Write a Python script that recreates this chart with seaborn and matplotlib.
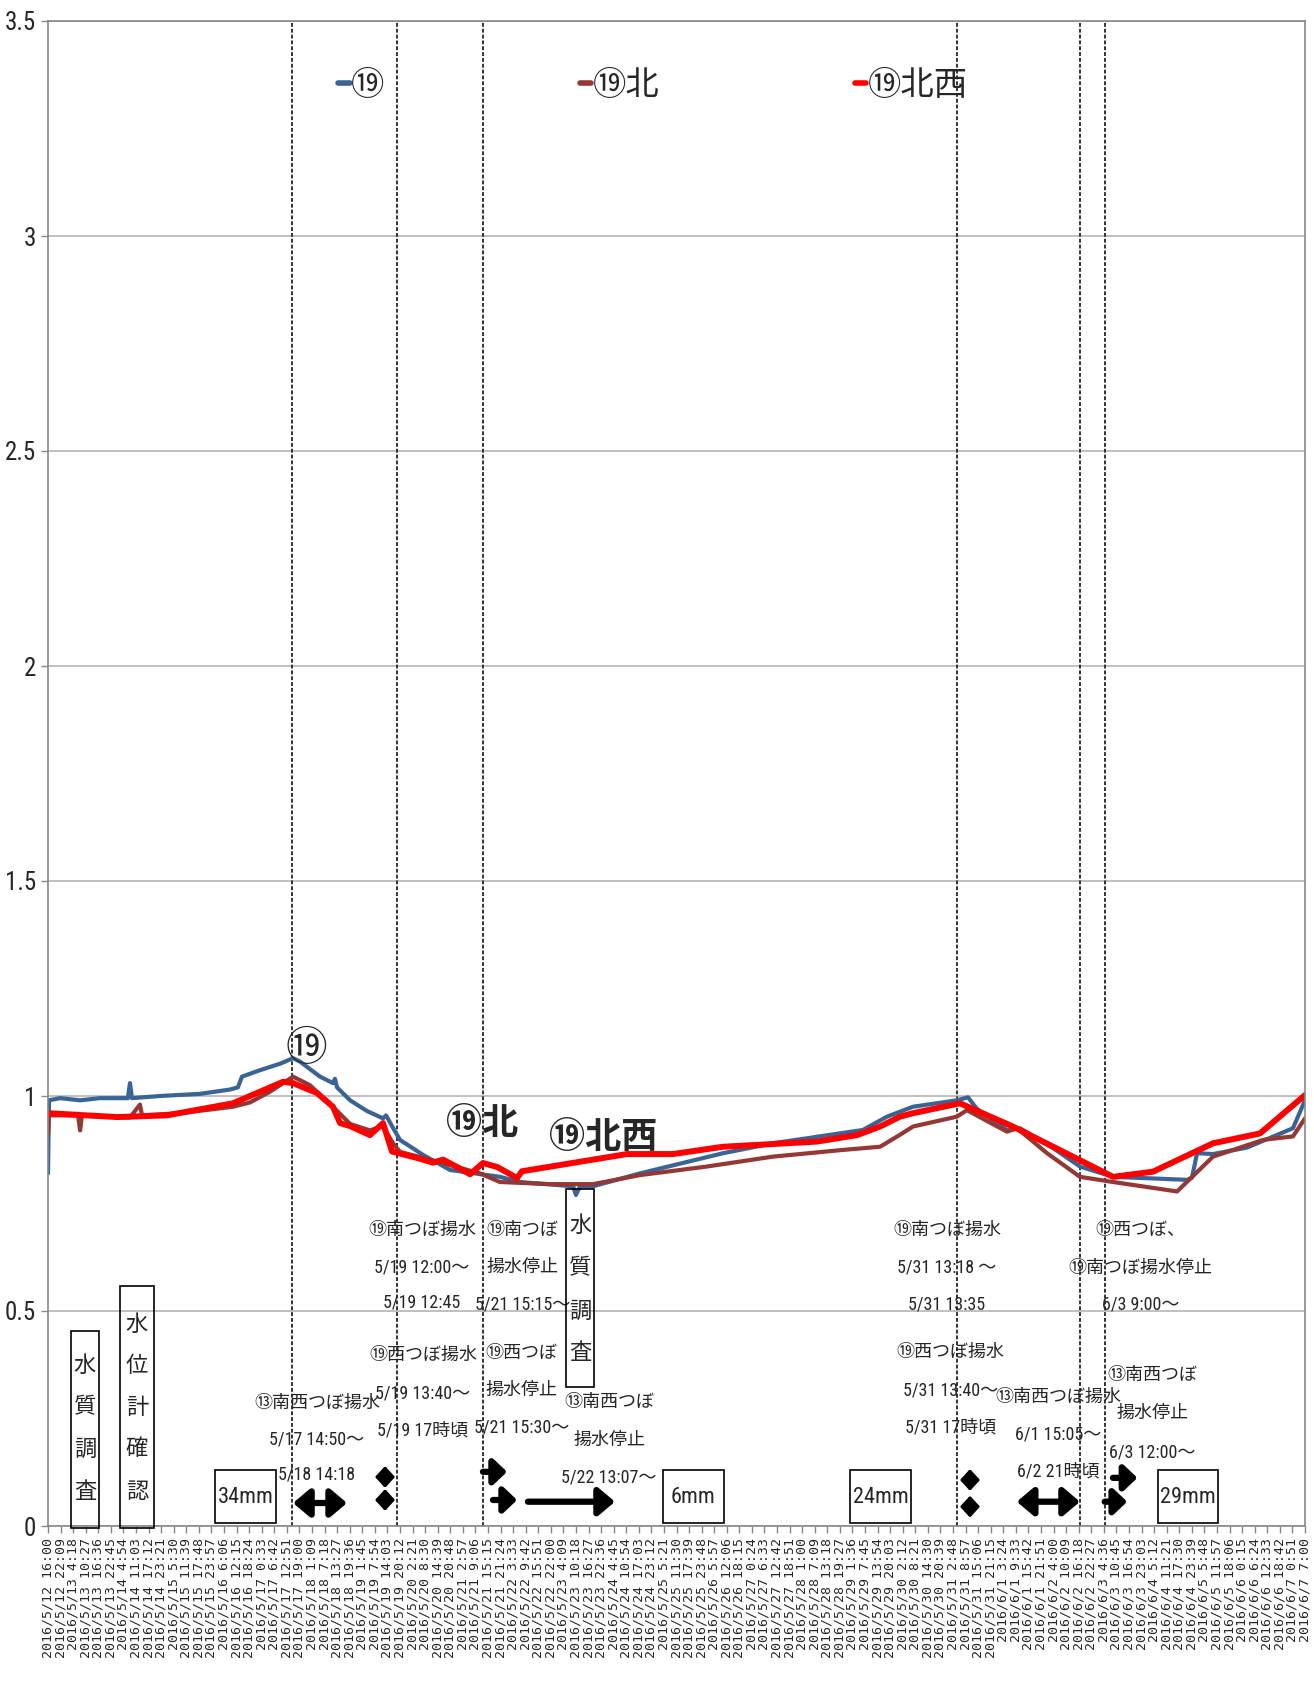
import pandas as pd
import seaborn as sns
import matplotlib.pyplot as plt
from matplotlib.patches import Rectangle
from matplotlib.lines import Line2D

# hours since 2016/5/12 16:00
t_19 = [0, 0.5, 5.9, 15.7, 25.4, 39.1, 40.1, 41.1, 54.8, 74.4, 89.0, 92.9, 94.9, 103.7, 113.5,
        119.9, 123.3, 133.1, 139.4, 140.4, 141.4, 147.8, 156.1, 163.9, 165.4, 168.3, 172.2, 183.5,
        196.7, 221.1, 230.9, 256.9, 258.3, 260.3, 266.6, 289.6, 330.3, 354.7, 398.7, 410.5, 423.2,
        444.7, 450.1, 454.5, 469.2, 475.6, 491.7, 504.9, 521.1, 557.3, 559.7, 562.2, 570.0, 586.6,
        609.1, 615]
v_19 = [0.82, 0.99, 0.995, 0.99, 0.995, 0.995, 1.03, 0.995, 1.0, 1.005, 1.015, 1.02, 1.045, 1.06,
        1.075, 1.088, 1.08, 1.045, 1.03, 1.04, 1.02, 0.99, 0.965, 0.948, 0.955, 0.93, 0.898, 0.863,
        0.828, 0.812, 0.80, 0.79, 0.77, 0.79, 0.79, 0.82, 0.867, 0.89, 0.921, 0.952, 0.975, 0.99,
        0.997, 0.97, 0.921, 0.925, 0.879, 0.836, 0.812, 0.805, 0.81, 0.867, 0.865, 0.88, 0.925, 0.99]

t_19n = [0, 0.5, 5.9, 14.7, 15.7, 16.6, 40.1, 45.0, 46.0, 64.6, 90.5, 98.8, 108.6, 119.9, 128.2,
         139.4, 147.8, 157.5, 163.9, 168.8, 172.2, 188.4, 211.4, 221.1, 245.6, 266.6, 289.6, 322.4,
         354.7, 387.5, 407.1, 416.9, 423.2, 444.7, 449.6, 469.2, 474.1, 488.8, 504.9, 521.1, 552.4,
         570.0, 594.5, 609.1, 615]
v_19n = [0.91, 0.955, 0.955, 0.955, 0.92, 0.955, 0.95, 0.98, 0.955, 0.96, 0.975, 0.985, 1.01, 1.045,
         1.025, 0.975, 0.935, 0.92, 0.93, 0.89, 0.87, 0.85, 0.82, 0.80, 0.795, 0.795, 0.816, 0.836,
         0.859, 0.874, 0.882, 0.91, 0.929, 0.952, 0.967, 0.917, 0.925, 0.867, 0.812, 0.80, 0.778,
         0.859, 0.898, 0.906, 0.948]

t_19nw = [0, 33.8, 58.2, 90.5, 115.0, 119.9, 131.6, 139.4, 142.9, 147.8, 157.5, 163.9, 168.3, 180.5,
          188.4, 193.3, 200.1, 206.5, 212.8, 219.7, 225.5, 229.5, 231.9, 283.3, 305.8, 330.3, 376.2,
          395.8, 407.1, 416.9, 423.2, 446.2, 472.1, 521.1, 540.6, 570.0, 593.0, 615]
v_19nw = [0.96, 0.951, 0.955, 0.983, 1.033, 1.03, 1.007, 0.975, 0.937, 0.93, 0.909, 0.937, 0.871,
          0.856, 0.845, 0.852, 0.835, 0.818, 0.844, 0.835, 0.82, 0.809, 0.825, 0.865, 0.865, 0.882,
          0.894, 0.909, 0.929, 0.952, 0.96, 0.983, 0.929, 0.812, 0.824, 0.89, 0.913, 1.002]

series_names = ['⑲', '⑲北', '⑲北西']
series_colors = ['#3B6496', '#953735', '#FF0000']

# x tick labels every 6h09m
t0 = pd.Timestamp('2016-05-12 16:00')
tick_times = pd.date_range(t0, periods=101, freq='369min')
tick_hours = [(t - t0).total_seconds() / 3600 for t in tick_times]
tick_labels = [f'{t.year}/{t.month}/{t.day} {t.hour}:{t.minute:02d}' for t in tick_times]

y_ticks = [0, 0.5, 1, 1.5, 2, 2.5, 3, 3.5]
y_labels = ['0', '0.5', '1', '1.5', '2', '2.5', '3', '3.5']

event_hours = [119.2, 170.6, 213.0, 444.9, 504.9, 517.1]

sns.set_style('white')
jp = ['Roboto Condensed', 'Liberation Sans Narrow', 'Noto Sans CJK JP', 'DejaVu Sans']
plt.rcParams['font.family'] = jp

fig = plt.figure(figsize=(13.14, 16.84), dpi=100)
ax = fig.add_axes([48 / 1314, 1 - 1526 / 1684, 1257 / 1314, 1505 / 1684])

for tt, vv, name, col, lw in zip([t_19, t_19n, t_19nw], [v_19, v_19n, v_19nw],
                                 series_names, series_colors, [3.0, 3.0, 4.3]):
    sns.lineplot(x=tt, y=vv, ax=ax, color=col, linewidth=lw, estimator=None, sort=False,
                 label=name, legend=False)

for h in event_hours:
    ax.axvline(h, color='#333333', lw=1.4, ls=(0, (2, 1)), zorder=1)

ax.set_xlim(0, 615)
ax.set_ylim(0, 3.5)
ax.set_yticks(y_ticks)
ax.set_yticklabels(y_labels, fontsize=18)
ax.set_xticks(tick_hours)
ax.set_xticklabels(tick_labels, rotation=90, fontsize=9.5, family='DejaVu Sans Mono')
ax.tick_params(axis='both', direction='out', length=5, color='#888888', width=1, bottom=True, left=True)
ax.tick_params(axis='x', pad=4)
ax.grid(axis='y', color='#BBBBBB', lw=1.3)
ax.grid(axis='x', visible=False)
for s in ax.spines.values():
    s.set_color('#888888')
    s.set_linewidth(1.2)
ax.set_xlabel('')
ax.set_ylabel('')

handles = [Line2D([0], [0], color=c, lw=4) for c in series_colors]
ax.legend(handles, series_names, loc='center left', bbox_to_anchor=(0.2307, 0.957), ncol=3,
          frameon=False, fontsize=24, handlelength=0.35, handletextpad=0.05, columnspacing=5.85,
          borderpad=0, borderaxespad=0)

# big labels next to curves
ax.text(126.6, 1.107, '⑲', fontsize=30, ha='center', va='center')
ax.text(212.4, 0.935, '⑲北', fontsize=26, fontweight='bold', ha='center', va='center')
ax.text(271.5, 0.902, '⑲北西', fontsize=26, fontweight='bold', ha='center', va='center')

notes = [
    (183.0, [0.688, 0.602, 0.519], ['⑲南つぼ揚水', '5/19 12:00～', '5/19 12:45']),
    (183.5, [0.398, 0.309, 0.223], ['⑲西つぼ揚水', '5/19 13:40～', '5/19 17時頃']),
    (131.6, [0.286, 0.200, 0.119], ['⑬南西つぼ揚水', '5/17 14:50～', '5/18 14:18']),
    (232.0, [0.688, 0.602, 0.514], ['⑲南つぼ', '揚水停止', '5/21 15:15～']),
    (231.5, [0.402, 0.316, 0.228], ['⑲西つぼ', '揚水停止', '5/21 15:30～']),
    (274.5, [0.288, 0.200, 0.112], ['⑬南西つぼ', '揚水停止', '5/22 13:07～']),
    (439.8, [0.688, 0.600, 0.514], ['⑲南つぼ揚水', '5/31 13:18 ～', '5/31 13:35']),
    (441.7, [0.405, 0.316, 0.230], ['⑲西つぼ揚水', '5/31 13:40～', '5/31 17時頃']),
    (494.2, [0.300, 0.212, 0.126], ['⑬南西つぼ揚水', '6/1 15:05～', '6/2 21時頃']),
    (534.7, [0.688, 0.600, 0.514], ['⑲西つぼ、', '⑲南つぼ揚水停止', '6/3 9:00～']),
    (540.4, [0.351, 0.263, 0.172], ['⑬南西つぼ', '揚水停止', '6/3 12:00～']),
]
for x, ys, lines in notes:
    for y, s in zip(ys, lines):
        ax.text(x, y, s, fontsize=13, ha='center', va='center')

# boxed labels: (x0, x1, y0, y1, text centre x, char y positions, chars)
boxes = [
    (11.3, 25.0, -0.005, 0.453, 18.1, [0.37, 0.274, 0.177, 0.077], '水質調査'),
    (35.2, 51.9, -0.005, 0.559, 43.5, [0.467, 0.37, 0.274, 0.177, 0.079], '水位計確認'),
    (253.3, 267.3, 0.324, 0.783, 260.3, [0.696, 0.599, 0.498, 0.402], '水質調査'),
    (81.7, 111.6, 0.007, 0.130, 96.6, [0.067], ['34mm']),
    (300.9, 330.7, 0.007, 0.130, 315.8, [0.067], ['6mm']),
    (392.4, 422.2, 0.007, 0.130, 407.3, [0.067], ['24mm']),
    (542.9, 572.6, 0.007, 0.130, 557.8, [0.067], ['29mm']),
]
for x0, x1, y0, y1, xc, ys, chars in boxes:
    ax.add_patch(Rectangle((x0, y0), x1 - x0, y1 - y0, fill=False, ec='black', lw=1.2,
                           clip_on=False, zorder=4))
    for y, ch in zip(ys, chars):
        ax.text(xc, y, ch, fontsize=16, ha='center', va='center')

# arrows: (start, end, y, style, head scale, head length, head width, shaft width)
arrows = [
    (119.9, 146.3, 0.0535, '<|-|>', 22, 0.45, 0.38, 4.5),
    (160.0, 169.8, 0.114, '<|-|>', 10, 0.55, 0.6, 2.5),
    (160.0, 169.8, 0.0605, '<|-|>', 10, 0.55, 0.6, 2.5),
    (212.8, 224.6, 0.126, '-|>', 20, 0.4, 0.38, 4.5),
    (217.7, 229.5, 0.0605, '-|>', 20, 0.4, 0.38, 4.5),
    (234.8, 277.4, 0.0565, '-|>', 22, 0.45, 0.38, 4.5),
    (446.2, 456.0, 0.107, '<|-|>', 10, 0.55, 0.6, 2.5),
    (446.2, 456.0, 0.045, '<|-|>', 10, 0.55, 0.6, 2.5),
    (474.0, 504.9, 0.0565, '<|-|>', 22, 0.45, 0.38, 4.5),
    (521.0, 533.0, 0.112, '-|>', 20, 0.4, 0.38, 4.5),
    (517.0, 528.0, 0.0565, '-|>', 20, 0.4, 0.38, 4.5),
]
for a, b, y, st, ms, hl, hw, lw in arrows:
    ax.annotate('', xy=(b, y), xytext=(a, y),
                arrowprops=dict(arrowstyle=f'{st},head_length={hl},head_width={hw}',
                                mutation_scale=ms, lw=lw, color='black',
                                shrinkA=0, shrinkB=0))

fig.savefig('out.png', dpi=100)
